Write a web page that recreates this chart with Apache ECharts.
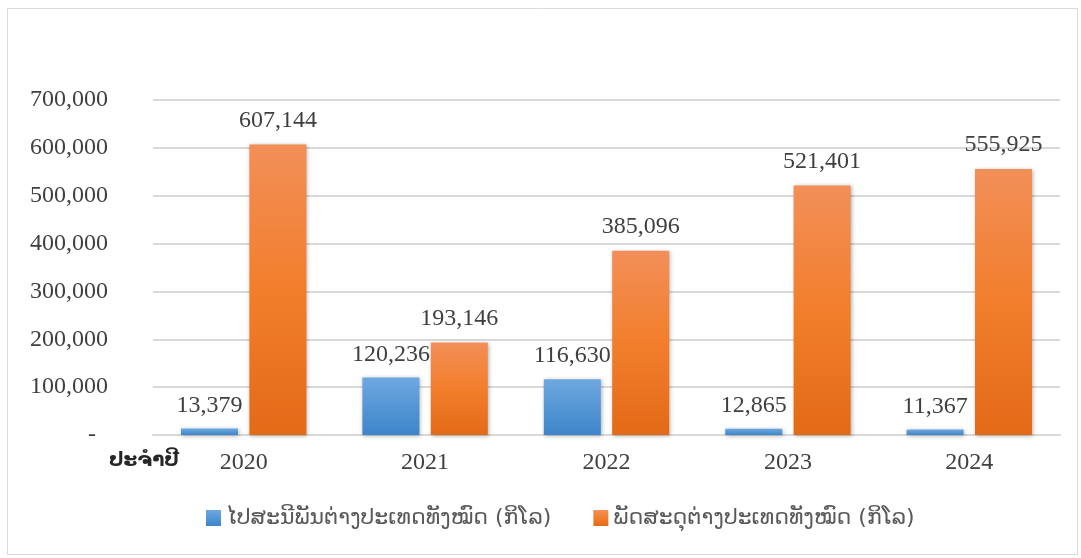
<!DOCTYPE html>
<html>
<head>
<meta charset="utf-8">
<script src="https://cdn.jsdelivr.net/npm/echarts@6/dist/echarts.min.js"></script>
<style>
  html, body { margin: 0; padding: 0; background: #fff; }
  #main { width: 1081px; height: 558px; }
</style>
</head>
<body>
<div id="main"></div>
<script>
  var years = ['2020', '2021', '2022', '2023', '2024'];
  var importName = 'ໄປສະນີພັນຕ່າງປະເທດທັງໝົດ (ກິໂລ)';
  var exportName = 'ພັດສະດຸຕ່າງປະເທດທັງໝົດ (ກິໂລ)';
  var importValues = [13379, 120236, 116630, 12865, 11367];
  var exportValues = [607144, 193146, 385096, 521401, 555925];

  var myChart = echarts.init(document.getElementById('main'));

  function fmt(v) {
    if (v === 0) return '-\u00a0\u00a0';
    return v.toString().replace(/\B(?=(\d{3})+(?!\d))/g, ',');
  }

  var serif = '"Liberation Serif", "Times New Roman", serif';

  option = {
    backgroundColor: '#fff',
    animation: false,
    graphic: [{
      type: 'rect',
      shape: { x: 7.5, y: 8.5, width: 1070, height: 546 },
      style: { fill: 'none', stroke: '#d9d9d9', lineWidth: 1 }
    }, {
      type: 'text',
      left: 109,
      top: 451,
      style: {
        text: 'ປະຈໍາປີ',
        font: 'bold 20px "DejaVu Sans", sans-serif',
        fill: '#262626'
      }
    }],
    grid: {
      left: 153,
      right: 21,
      top: 100,
      bottom: 123
    },
    legend: {
      bottom: 24,
      left: 201,
      itemWidth: 15,
      itemHeight: 16,
      itemGap: 42,
      icon: 'rect',
      textStyle: {
        color: '#595959',
        fontSize: 22,
        fontFamily: '"DejaVu Sans", sans-serif'
      },
      data: [importName, exportName]
    },
    xAxis: {
      type: 'category',
      data: years,
      axisTick: { show: false },
      axisLine: { lineStyle: { color: '#d9d9d9', width: 2 } },
      axisLabel: {
        color: '#404040',
        fontSize: 24,
        fontFamily: serif,
        margin: 16
      }
    },
    yAxis: {
      type: 'value',
      min: 0,
      max: 700000,
      interval: 100000,
      axisLine: { show: false },
      axisTick: { show: false },
      splitLine: { lineStyle: { color: '#d9d9d9', width: 2 } },
      axisLabel: {
        color: '#404040',
        fontSize: 24,
        fontFamily: serif,
        margin: 45,
        formatter: fmt
      }
    },
    series: [{
      name: importName,
      type: 'bar',
      data: importValues,
      barWidth: 57,
      barGap: '20%',
      itemStyle: {
        color: new echarts.graphic.LinearGradient(0, 0, 0, 1, [
          { offset: 0, color: '#6ea8e0' },
          { offset: 1, color: '#3d85ca' }
        ]),
        shadowColor: 'rgba(0,0,0,0.3)',
        shadowBlur: 4,
        shadowOffsetX: 1,
        shadowOffsetY: 1
      },
      label: {
        show: true,
        position: 'top',
        distance: 11,
        color: '#404040',
        fontSize: 24,
        fontFamily: serif,
        formatter: function(p) { return fmt(p.value); }
      }
    }, {
      name: exportName,
      type: 'bar',
      data: exportValues,
      barWidth: 57,
      itemStyle: {
        color: new echarts.graphic.LinearGradient(0, 0, 0, 1, [
          { offset: 0, color: '#f28f58' },
          { offset: 0.5, color: '#f27e2c' },
          { offset: 1, color: '#e36a17' }
        ]),
        shadowColor: 'rgba(0,0,0,0.3)',
        shadowBlur: 4,
        shadowOffsetX: 1,
        shadowOffsetY: 1
      },
      label: {
        show: true,
        position: 'top',
        distance: 12,
        color: '#404040',
        fontSize: 24,
        fontFamily: serif,
        formatter: function(p) { return fmt(p.value); }
      }
    }]
  };

  myChart.setOption(option);
  window.addEventListener('resize', function() {
    myChart.resize();
  });
</script>
</body>
</html>
